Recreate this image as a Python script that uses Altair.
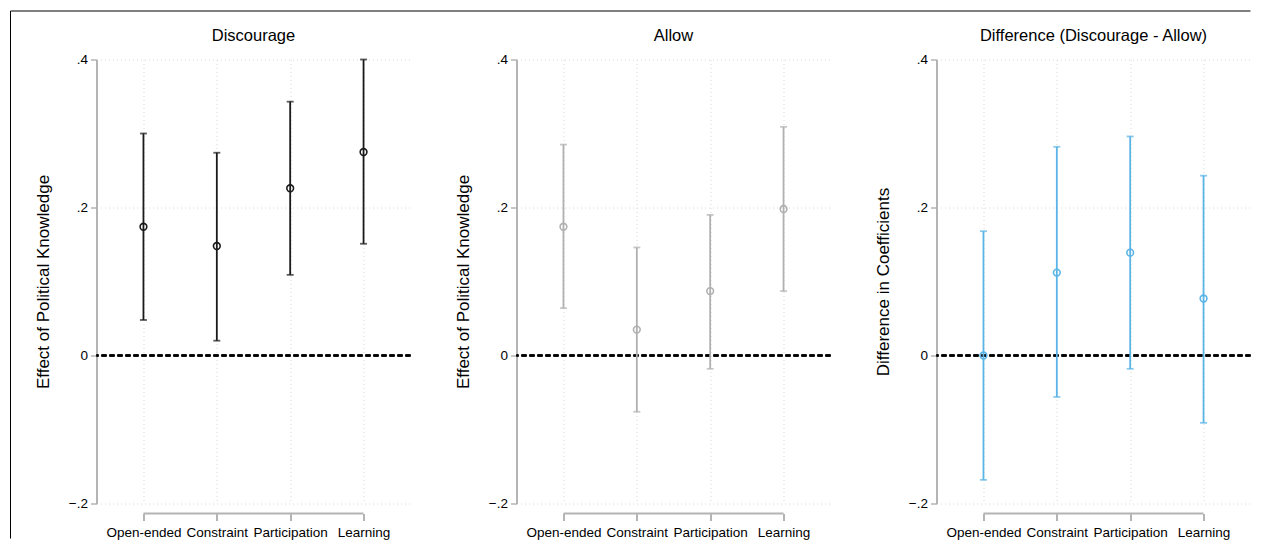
import altair as alt
import pandas as pd

categories = ["Open-ended", "Constraint", "Participation", "Learning"]

disc_est = [0.174, 0.148, 0.226, 0.275]
disc_lo = [0.048, 0.020, 0.109, 0.151]
disc_hi = [0.300, 0.274, 0.343, 0.400]

allow_est = [0.174, 0.035, 0.087, 0.198]
allow_lo = [0.064, -0.076, -0.018, 0.087]
allow_hi = [0.285, 0.146, 0.190, 0.309]

diff_est = [0.000, 0.112, 0.139, 0.077]
diff_lo = [-0.168, -0.056, -0.018, -0.091]
diff_hi = [0.168, 0.282, 0.296, 0.243]

titles = ["Discourage", "Allow", "Difference (Discourage - Allow)"]
ytitles = ["Effect of Political Knowledge", "Effect of Political Knowledge", "Difference in Coefficients"]
colors = ["#1a1a1a", "#b0b0b0", "#5ab4e6"]

W, H = 314, 444
FONT = "Liberation Sans"
AXIS_GRAY = "#b4b4b4"


def panel(est, lo, hi, color, title, ytitle, frame=False):
    df = pd.DataFrame({"cat": categories, "est": est, "lo": lo, "hi": hi})
    xenc = alt.X(
        "cat:N",
        sort=categories,
        scale=alt.Scale(type="point", padding=0.64, domain=categories),
        axis=alt.Axis(
            title=None, domain=False, offset=10, tickSize=7, tickWidth=2,
            tickColor=AXIS_GRAY, labelAngle=0, labelFontSize=13.5, labelColor="black",
            labelFont=FONT, labelPadding=5, grid=True, gridColor="#d8d8d8",
            gridDash=[1, 3], gridWidth=1,
        ),
    )
    yscale = alt.Scale(domain=[-0.2, 0.4], nice=False, zero=False)
    yaxis = alt.Axis(
        title=ytitle, values=[-0.2, 0, 0.2, 0.4],
        labelExpr="datum.value == 0 ? '0' : replace(format(datum.value, '.1f'), '0.', '.')",
        domainColor=AXIS_GRAY, domainWidth=2, tickColor=AXIS_GRAY, tickWidth=1.5,
        tickSize=6, labelFontSize=13.5, labelColor="black", labelFont=FONT,
        labelPadding=3, titleFontSize=17, titleFont=FONT, titleFontWeight="normal",
        titleColor="black", titlePadding=16, grid=True, gridColor="#d8d8d8",
        gridDash=[1, 3], gridWidth=1,
    )
    base = alt.Chart(df)
    bars = base.mark_rule(color=color, strokeWidth=1.8).encode(
        x=xenc, y=alt.Y("lo:Q", scale=yscale, axis=yaxis), y2="hi:Q"
    )
    cap_lo = base.mark_tick(color=color, size=7, thickness=1.8, orient="horizontal").encode(
        x=alt.X("cat:N", sort=categories), y="lo:Q"
    )
    cap_hi = base.mark_tick(color=color, size=7, thickness=1.8, orient="horizontal").encode(
        x=alt.X("cat:N", sort=categories), y="hi:Q"
    )
    pts = base.mark_point(shape="circle", filled=False, color=color, size=45, strokeWidth=1.6,
                          opacity=1).encode(
        x=alt.X("cat:N", sort=categories), y="est:Q"
    )
    zero = base.mark_rule(color="black", strokeDash=[5, 3], strokeWidth=2).encode(
        y=alt.datum(0)
    )
    xline = alt.Chart(pd.DataFrame({"a": [categories[0]], "b": [categories[-1]]})).mark_rule(
        color=AXIS_GRAY, strokeWidth=2
    ).encode(
        x=alt.X("a:N", sort=categories), x2="b:N", y=alt.value(H + 10)
    )
    ttl = alt.Chart(pd.DataFrame({"t": [title]})).mark_text(
        font=FONT, fontSize=16.5, color="black", align="center", baseline="middle"
    ).encode(text="t:N", x=alt.value(W / 2), y=alt.value(-23.5))
    layers = [zero, bars, cap_lo, cap_hi, pts, xline, ttl]
    if frame:
        one = alt.Chart(pd.DataFrame({"k": [0]}))
        top = one.mark_rule(color="black", strokeWidth=1).encode(
            x=alt.value(-86), x2=alt.value(1154), y=alt.value(-48.5)
        )
        left = one.mark_rule(color="black", strokeWidth=1).encode(
            x=alt.value(-86), y=alt.value(-48.5), y2=alt.value(479)
        )
        layers += [top, left]
    return alt.layer(*layers).properties(width=W, height=H)


p1 = panel(disc_est, disc_lo, disc_hi, colors[0], titles[0], ytitles[0], frame=True)
p2 = panel(allow_est, allow_lo, allow_hi, colors[1], titles[1], ytitles[1])
p3 = panel(diff_est, diff_lo, diff_hi, colors[2], titles[2], ytitles[2])

chart = alt.hconcat(p1, p2, p3, spacing=106, bounds="flush").properties(
    padding={"left": 1.5, "top": 2.5, "right": 0, "bottom": 0},
    background="white",
).configure_view(stroke=None)

chart.save("out.html", embed_options={"renderer": "svg", "actions": False})
